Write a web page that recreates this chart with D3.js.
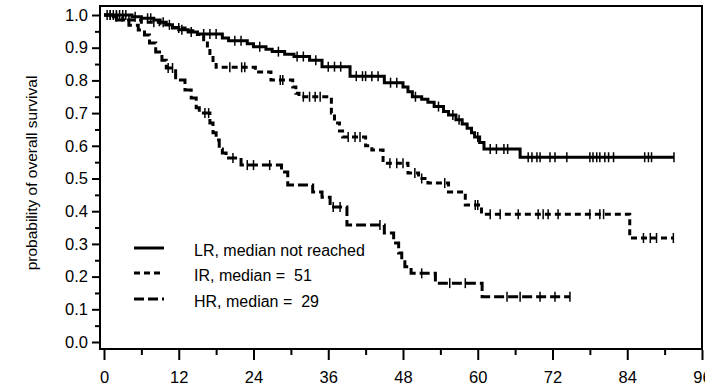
<!DOCTYPE html>
<html lang="en">
<head>
<meta charset="UTF-8" />
<title>Overall survival</title>
<style>
  html, body {
    margin: 0;
    padding: 0;
    background: #fff;
  }
  svg {
    display: block;
    font-family: Arial, "Liberation Sans", sans-serif;
  }
  .axis text {
    font-size: 16.5px;
    fill: #000;
  }
  .axis line {
    stroke: #000;
    stroke-width: 2px;
  }
  .curve {
    fill: none;
    stroke: #000;
    stroke-width: 3px;
  }
  .censor {
    stroke: #000;
    stroke-width: 1.5px;
  }
  .legend text {
    font-size: 16px;
    white-space: pre;
  }
</style>
</head>
<body>
<svg width="705" height="388"></svg>

<script src="https://d3js.org/d3.v7.min.js"></script>
<script>
// ---- data (months, survival after each drop) ----
const lrTimes = [0, 4.5, 6, 8, 9, 10, 11, 12, 13.5, 15, 19, 20, 23, 24, 26, 27, 29, 30.5, 33, 35, 39.5, 45, 48, 48.8, 49.5, 51, 52, 53, 54.5, 55.3, 56.5, 57.5, 58.3, 59, 59.5, 60.3, 61, 66.8];
const lrSurv  = [1.0, 0.995, 0.99, 0.985, 0.978, 0.97, 0.962, 0.955, 0.948, 0.942, 0.93, 0.921, 0.912, 0.903, 0.895, 0.888, 0.88, 0.873, 0.862, 0.842, 0.813, 0.793, 0.78, 0.765, 0.75, 0.742, 0.733, 0.72, 0.705, 0.694, 0.68, 0.667, 0.654, 0.64, 0.627, 0.61, 0.59, 0.565];
const lrEnd = 91.5;
const lrCensor = [0.5, 1, 1.5, 2, 2.5, 3, 3.5, 5, 7, 7.5, 9.5, 10.5, 12.5, 14, 16, 17, 18, 21, 22, 25, 28, 31, 32, 34, 36, 37, 38, 40.5, 41.5, 42, 43, 44, 46, 47, 50, 53.7, 56, 57, 60, 62, 63, 64.2, 64.8, 68.1, 68.7, 69.5, 70, 71.6, 72.4, 74.3, 78, 78.5, 79.1, 79.6, 80.4, 81, 81.8, 86.8, 87.4, 87.9, 91.5];

const irTimes = [0, 1.5, 3, 6, 9, 11, 13, 15, 16, 16.6, 17, 17.5, 18, 24.3, 26.8, 30.3, 30.8, 31.3, 36.5, 37, 37.8, 38.3, 42, 43, 44.8, 48.8, 50.5, 52, 55.3, 58, 60.6, 84.4];
const irSurv  = [1.0, 0.995, 0.985, 0.978, 0.97, 0.96, 0.952, 0.94, 0.924, 0.9, 0.875, 0.855, 0.84, 0.826, 0.801, 0.78, 0.761, 0.75, 0.7, 0.67, 0.645, 0.627, 0.6, 0.587, 0.547, 0.517, 0.5, 0.486, 0.459, 0.419, 0.391, 0.318];
const irEnd = 91.4;
const irCensor = [1, 2, 4, 8, 12, 20.2, 22.1, 22.6, 28.3, 28.7, 32, 33, 33.9, 34.7, 39.2, 40.3, 41.1, 45.9, 47, 48, 49.9, 51, 54.7, 59.6, 60, 62, 63.6, 66.5, 69.7, 70.5, 71.3, 72.9, 78, 79.6, 80.2, 86.6, 87.7, 88.7, 91.4];

const hrTimes = [0, 2, 4, 5.5, 6.5, 7.3, 8.3, 9.3, 10, 11.5, 13, 14, 14.8, 15.3, 17, 17.5, 18, 18.5, 19, 19.6, 22, 28.5, 29.5, 33.5, 35, 36.3, 39, 45, 46.5, 47.3, 47.8, 48.3, 49.3, 53.2, 60.7];
const hrSurv  = [1.0, 0.985, 0.969, 0.954, 0.939, 0.914, 0.887, 0.862, 0.838, 0.801, 0.771, 0.746, 0.716, 0.7, 0.67, 0.64, 0.618, 0.59, 0.578, 0.563, 0.541, 0.52, 0.48, 0.459, 0.443, 0.413, 0.358, 0.333, 0.303, 0.272, 0.251, 0.23, 0.21, 0.18, 0.138];
const hrEnd = 74.8;
const hrCensor = [10.3, 11, 16.2, 16.8, 20.7, 23, 24, 26.6, 36.8, 37.9, 44.3, 51, 55.5, 58, 64.7, 66.8, 70, 72.4, 74.8];

const legendLabels = ["LR, median not reached", "IR, median =  51", "HR, median =  29"];
const yTicks = d3.range(0, 1.0001, 0.1);
const yMinor = d3.range(0.05, 1, 0.1);
const xTicks = d3.range(0, 97, 12);
const xMinor = d3.range(6, 96, 12);

const series = [
  { times: lrTimes, surv: lrSurv, end: lrEnd, censor: lrCensor, dash: null },
  { times: irTimes, surv: irSurv, end: irEnd, censor: irCensor, dash: "6,4" },
  { times: hrTimes, surv: hrSurv, end: hrEnd, censor: hrCensor, dash: "10,4" }
];

const svg = d3.select("svg");

const x = d3.scaleLinear().domain([0, 96]).range([104, 702]);
const y = d3.scaleLinear().domain([0, 1]).range([342, 15]);

// plot frame
svg.append("rect")
  .attr("x", 100).attr("y", 6)
  .attr("width", 602).attr("height", 343)
  .attr("fill", "none")
  .attr("stroke", "#000")
  .attr("stroke-width", 2);

// y axis
const yAxis = svg.append("g")
  .attr("class", "axis")
  .attr("transform", "translate(100,0)")
  .call(d3.axisLeft(y).tickValues(yTicks).tickSize(8).tickPadding(4).tickFormat(d3.format(".1f")));
yAxis.select(".domain").remove();

const yAxisMinor = svg.append("g")
  .attr("class", "axis")
  .attr("transform", "translate(100,0)")
  .call(d3.axisLeft(y).tickValues(yMinor).tickSize(5).tickFormat(""));
yAxisMinor.select(".domain").remove();

// x axis
const xAxis = svg.append("g")
  .attr("class", "axis")
  .attr("transform", "translate(0,350)")
  .call(d3.axisBottom(x).tickValues(xTicks).tickSize(10).tickPadding(11));
xAxis.select(".domain").remove();

const xAxisMinor = svg.append("g")
  .attr("class", "axis")
  .attr("transform", "translate(0,350)")
  .call(d3.axisBottom(x).tickValues(xMinor).tickSize(5).tickFormat(""));
xAxisMinor.select(".domain").remove();

// y title
svg.append("text")
  .attr("transform", "translate(37,173) rotate(-90)")
  .attr("text-anchor", "middle")
  .style("font-size", "15.5px")
  .text("probability of overall survival");

// curves
const line = d3.line()
  .x(d => x(d[0]))
  .y(d => y(d[1]))
  .curve(d3.curveStepAfter);

function survAt(s, t) {
  let v = s.surv[0];
  for (let i = 0; i < s.times.length; i++) {
    if (s.times[i] <= t) v = s.surv[i];
  }
  return v;
}

series.forEach(s => {
  const pts = s.times.map((t, i) => [t, s.surv[i]]);
  pts.push([s.end, s.surv[s.surv.length - 1]]);

  svg.append("path")
    .datum(pts)
    .attr("class", "curve")
    .attr("d", line)
    .attr("stroke-dasharray", s.dash);

  svg.append("g")
    .selectAll("line")
    .data(s.censor)
    .join("line")
    .attr("class", "censor")
    .attr("x1", d => x(d)).attr("x2", d => x(d))
    .attr("y1", d => y(survAt(s, d)) - 5)
    .attr("y2", d => y(survAt(s, d)) + 5);
});

// legend
const legend = svg.append("g").attr("class", "legend");
const legendY = [248, 273, 299];

series.forEach((s, i) => {
  legend.append("line")
    .attr("class", "curve")
    .attr("x1", 134).attr("x2", 164)
    .attr("y1", legendY[i]).attr("y2", legendY[i])
    .attr("stroke-dasharray", s.dash);

  legend.append("text")
    .attr("x", 194)
    .attr("y", legendY[i] + 8)
    .text(legendLabels[i]);
});
</script>
</body>
</html>
